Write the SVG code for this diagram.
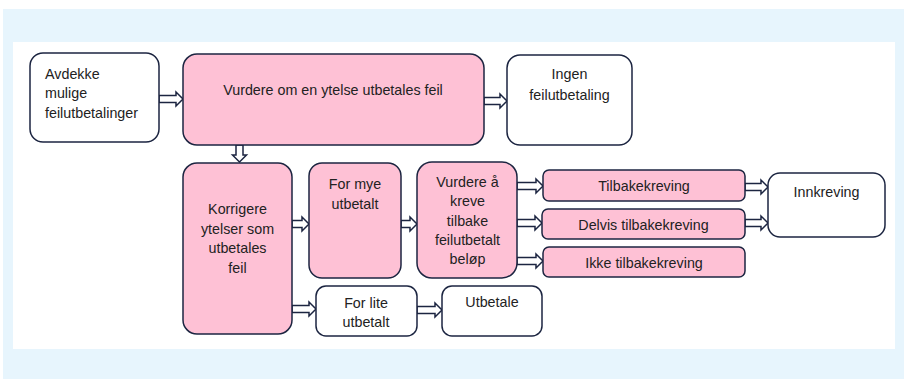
<svg xmlns="http://www.w3.org/2000/svg" width="904" height="379" viewBox="0 0 904 379">
<style>
.box{stroke:#1c2541;stroke-width:1.5}
.pink{fill:#fec1d5}
.white{fill:#ffffff}
.t{font-family:"Liberation Sans",Arial,sans-serif;font-size:14.3px;fill:#222222}
.c{text-anchor:middle}
.arr{fill:#ffffff;stroke:#1c2541;stroke-width:1.5;stroke-linejoin:miter}
</style>
<rect x="0" y="0" width="904" height="379" fill="#ffffff"/>
<rect x="3" y="9" width="901" height="370" fill="#e7f5fd"/>
<rect x="13" y="42" width="882" height="307" fill="#ffffff"/>

<g id="connectors">
<path class="arr" d="M159,95.5 H176 V92 L183,99 L176,106 V102.5 H159 Z"/>
<path class="arr" d="M484,97.5 H500 V94 L507,101 L500,108 V104.5 H484 Z"/>
<path class="arr" d="M236,145 V155 H232.5 L239.5,162 L246.5,155 H243 V145 Z"/>
<path class="arr" d="M292,220.5 H302 V217 L309,224 L302,231 V227.5 H292 Z"/>
<path class="arr" d="M401,220.5 H410 V217 L417,224 L410,231 V227.5 H401 Z"/>
<path class="arr" d="M517,182.5 H536 V179 L543,186 L536,193 V189.5 H517 Z"/>
<path class="arr" d="M517,219.5 H535 V216 L542,223 L535,230 V226.5 H517 Z"/>
<path class="arr" d="M517,257.5 H536 V254 L543,261 L536,268 V264.5 H517 Z"/>
<path class="arr" d="M745,183.5 H761 V180 L768,187 L761,194 V190.5 H745 Z"/>
<path class="arr" d="M745,219.5 H761 V216 L768,223 L761,230 V226.5 H745 Z"/>
<path class="arr" d="M292,305.5 H309 V302 L316,309 L309,316 V312.5 H292 Z"/>
<path class="arr" d="M417,306.5 H435 V303 L442,310 L435,317 V313.5 H417 Z"/>
</g>

<g id="n-avdekke">
<rect class="box white" x="30" y="53" width="129" height="89" rx="13"/>
<text class="t" x="45" y="79">Avdekke</text>
<text class="t" x="45" y="97.5">mulige</text>
<text class="t" x="45" y="117.5">feilutbetalinger</text>
</g>

<g id="n-vurdere-om">
<rect class="box pink" x="183" y="54" width="301" height="91" rx="14"/>
<text class="t c" x="333" y="95">Vurdere om en ytelse utbetales feil</text>
</g>

<g id="n-ingen">
<rect class="box white" x="507" y="55" width="125" height="90" rx="13"/>
<text class="t c" x="569.5" y="78.5">Ingen</text>
<text class="t c" x="569.5" y="100">feilutbetaling</text>
</g>

<g id="n-korrigere">
<rect class="box pink" x="183" y="163" width="109" height="171" rx="14"/>
<text class="t c" x="237.5" y="214">Korrigere</text>
<text class="t c" x="237.5" y="233.5">ytelser som</text>
<text class="t c" x="237.5" y="253">utbetales</text>
<text class="t c" x="237.5" y="272.5">feil</text>
</g>

<g id="n-formye">
<rect class="box pink" x="309" y="163" width="92" height="115" rx="13"/>
<text class="t c" x="355" y="189">For mye</text>
<text class="t c" x="355" y="208.5">utbetalt</text>
</g>

<g id="n-vurdere-kreve">
<rect class="box pink" x="417" y="162" width="100" height="116" rx="15"/>
<text class="t c" x="467.5" y="187">Vurdere å</text>
<text class="t c" x="467.5" y="206">kreve</text>
<text class="t c" x="467.5" y="225.5">tilbake</text>
<text class="t c" x="467.5" y="245">feilutbetalt</text>
<text class="t c" x="467.5" y="264">beløp</text>
</g>

<g id="n-tilbakekreving">
<rect class="box pink" x="543" y="170" width="202" height="31" rx="6"/>
<text class="t c" x="644" y="191">Tilbakekreving</text>
</g>

<g id="n-delvis">
<rect class="box pink" x="542" y="209" width="203" height="30" rx="6"/>
<text class="t c" x="643.5" y="229.5">Delvis tilbakekreving</text>
</g>

<g id="n-ikke">
<rect class="box pink" x="543" y="247" width="202" height="30" rx="6"/>
<text class="t c" x="644" y="267.5">Ikke tilbakekreving</text>
</g>

<g id="n-innkreving">
<rect class="box white" x="768" y="173" width="117" height="64" rx="12"/>
<text class="t c" x="826.5" y="196.5">Innkreving</text>
</g>

<g id="n-forlite">
<rect class="box white" x="316" y="286" width="101" height="50" rx="10"/>
<text class="t c" x="366" y="307.5">For lite</text>
<text class="t c" x="366" y="327">utbetalt</text>
</g>

<g id="n-utbetale">
<rect class="box white" x="442" y="286" width="100" height="50" rx="10"/>
<text class="t c" x="492" y="307">Utbetale</text>
</g>
</svg>
